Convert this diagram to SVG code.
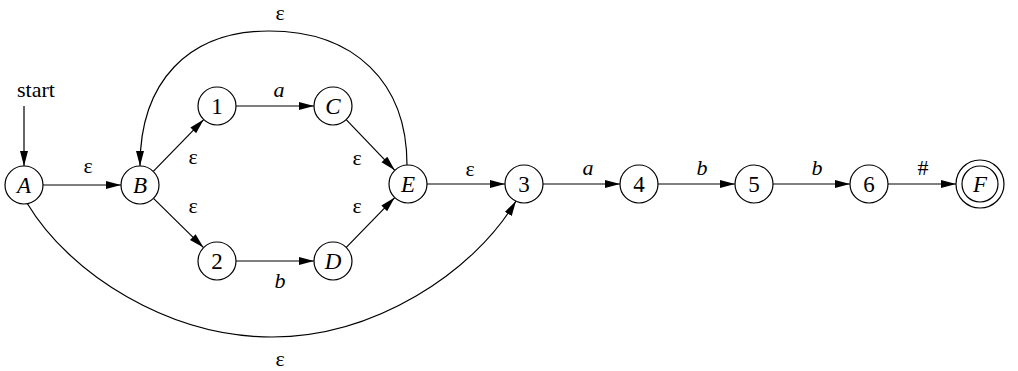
<svg xmlns="http://www.w3.org/2000/svg" width="1018" height="371" viewBox="0 0 1018 371">
<style>
.n{fill:#fff;stroke:#000;stroke-width:1.2}
.e{fill:none;stroke:#000;stroke-width:1.2}
text{font-family:"Liberation Serif","Times New Roman",serif;font-size:22px;fill:#000;text-anchor:middle}
.i{font-style:italic}
.v{font-size:23px}
</style>
<defs>
<marker id="ah" markerUnits="userSpaceOnUse" markerWidth="16" markerHeight="10" refX="15" refY="4" orient="auto">
<path d="M0,0 L15,4 L0,8 z" fill="#000"/>
</marker>
</defs>
<g id="connectors">
<line class="e" x1="24" y1="106" x2="24" y2="166" marker-end="url(#ah)"/>
<line class="e" x1="43" y1="185" x2="121" y2="185" marker-end="url(#ah)"/>
<line class="e" x1="153.3" y1="171.4" x2="203.7" y2="119.6" marker-end="url(#ah)"/>
<line class="e" x1="153.5" y1="198.4" x2="203.5" y2="247.6" marker-end="url(#ah)"/>
<line class="e" x1="236" y1="106" x2="314" y2="106" marker-end="url(#ah)"/>
<line class="e" x1="236" y1="261" x2="314" y2="261" marker-end="url(#ah)"/>
<line class="e" x1="346.2" y1="119.7" x2="394.8" y2="170.3" marker-end="url(#ah)"/>
<line class="e" x1="346.3" y1="247.4" x2="394.7" y2="197.6" marker-end="url(#ah)"/>
<line class="e" x1="427" y1="184" x2="505" y2="184" marker-end="url(#ah)"/>
<line class="e" x1="543" y1="184" x2="620" y2="184" marker-end="url(#ah)"/>
<line class="e" x1="658" y1="184" x2="735" y2="184" marker-end="url(#ah)"/>
<line class="e" x1="773" y1="184" x2="850" y2="184" marker-end="url(#ah)"/>
<line class="e" x1="888" y1="184" x2="956" y2="184" marker-end="url(#ah)"/>
<path class="e" d="M407,165 C407,82 354,31 269,31 C188,31 140,82 140,166" marker-end="url(#ah)"/>
<path class="e" d="M27,203 C70,275 170,337 272,337 C374,337 473,273 516,201" marker-end="url(#ah)"/>
</g>
<g id="labels">
<text x="36" y="97">start</text>
<text x="88" y="173">ε</text>
<text x="193" y="164">ε</text>
<text x="193" y="213">ε</text>
<text x="357" y="165">ε</text>
<text x="357" y="213">ε</text>
<text x="470" y="176">ε</text>
<text x="280" y="20">ε</text>
<text x="280" y="366">ε</text>
<text class="i" x="279" y="97">a</text>
<text class="i" x="280" y="288">b</text>
<text class="i" x="588" y="175">a</text>
<text class="i" x="702" y="175">b</text>
<text class="i" x="817" y="175">b</text>
<text x="923" y="175">#</text>
</g>
<g id="A"><circle class="n" cx="24" cy="185" r="19"/><text class="i v" x="24" y="193">A</text></g>
<g id="B"><circle class="n" cx="140" cy="185" r="19"/><text class="i v" x="140" y="193">B</text></g>
<g id="n1"><circle class="n" cx="217" cy="106" r="19"/><text class="v" x="217" y="114">1</text></g>
<g id="C"><circle class="n" cx="333" cy="106" r="19"/><text class="i v" x="333" y="114">C</text></g>
<g id="n2"><circle class="n" cx="217" cy="261" r="19"/><text class="v" x="217" y="269">2</text></g>
<g id="D"><circle class="n" cx="333" cy="261" r="19"/><text class="i v" x="333" y="269">D</text></g>
<g id="E"><circle class="n" cx="408" cy="184" r="19"/><text class="i v" x="408" y="192">E</text></g>
<g id="n3"><circle class="n" cx="524" cy="184" r="19"/><text class="v" x="524" y="192">3</text></g>
<g id="n4"><circle class="n" cx="639" cy="184" r="19"/><text class="v" x="639" y="192">4</text></g>
<g id="n5"><circle class="n" cx="754" cy="184" r="19"/><text class="v" x="754" y="192">5</text></g>
<g id="n6"><circle class="n" cx="869" cy="184" r="19"/><text class="v" x="869" y="192">6</text></g>
<g id="F"><circle class="n" cx="980" cy="184" r="24"/><circle class="n" cx="980" cy="184" r="18"/><text class="i v" x="980" y="192">F</text></g>
</svg>
